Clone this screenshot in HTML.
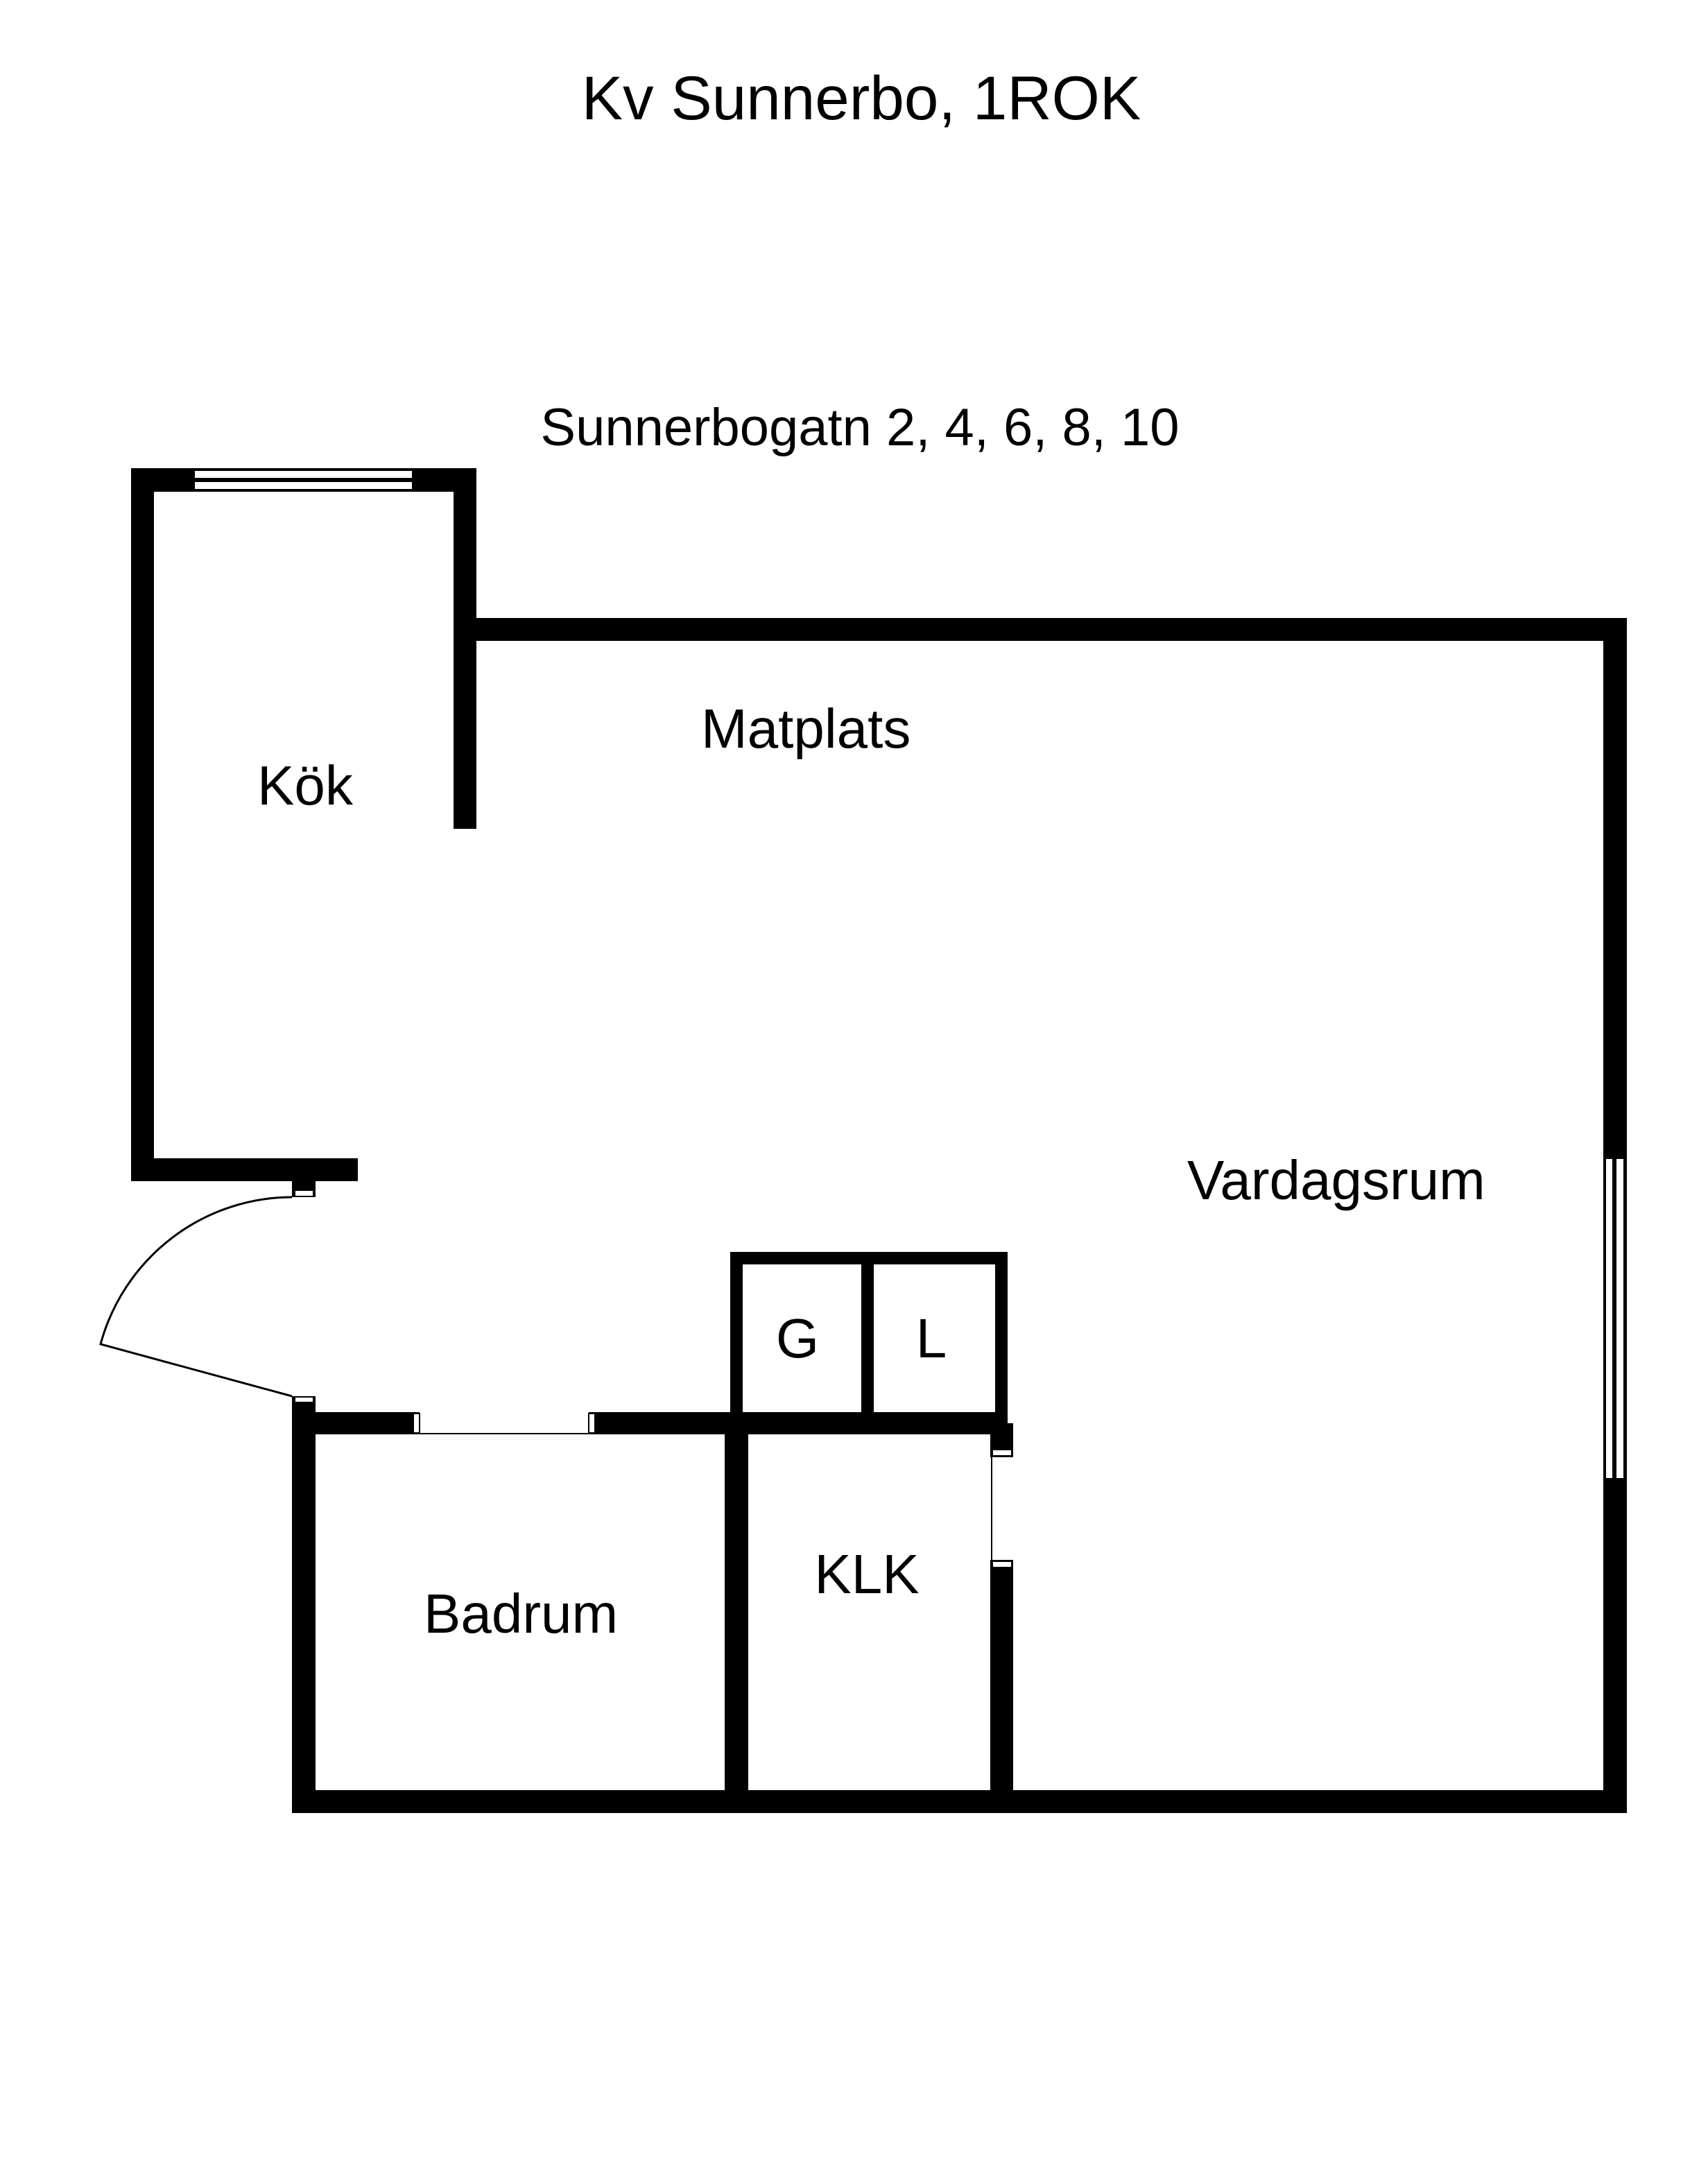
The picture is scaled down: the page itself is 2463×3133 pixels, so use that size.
<!DOCTYPE html>
<html><head><meta charset="utf-8"><style>
html,body{margin:0;padding:0;background:#fff;}
svg{display:block;}
text{font-family:"Liberation Sans",Arial,sans-serif;fill:#000;}
</style></head><body>
<svg width="2463" height="3133" viewBox="0 0 2463 3133" xmlns="http://www.w3.org/2000/svg">
<rect width="2463" height="3133" fill="#fff"/>
<text x="1242" y="172" font-size="89" text-anchor="middle">Kv Sunnerbo, 1ROK</text>
<text x="1240" y="642" font-size="76" text-anchor="middle">Sunnerbogatn 2, 4, 6, 8, 10</text>
<g fill="#000">
<rect x="189" y="675" width="498" height="34"/>
<rect x="189" y="675" width="33" height="1028"/>
<rect x="654" y="675" width="33" height="520"/>
<rect x="189" y="1670" width="327" height="33"/>
<rect x="654" y="891" width="1692" height="33"/>
<rect x="2312" y="891" width="34" height="1723"/>
<rect x="421" y="2581" width="1925" height="33"/>
<rect x="421" y="2013" width="34" height="601"/>
<rect x="455" y="2036" width="150" height="32"/>
<rect x="849" y="2036" width="604" height="32"/>
<rect x="1045" y="2036" width="34" height="578"/>
<rect x="1053" y="1805" width="400" height="18"/>
<rect x="1053" y="1805" width="18" height="240"/>
<rect x="1242" y="1805" width="18" height="240"/>
<rect x="1435" y="1805" width="18" height="240"/>
<rect x="1428" y="2052" width="33" height="49"/>
<rect x="1428" y="2249" width="33" height="365"/>
<rect x="421" y="1703" width="34" height="23"/>
</g>
<g fill="#fff" stroke="#000" stroke-width="2">
<rect x="280" y="678" width="315" height="12"/>
<rect x="280" y="694" width="315" height="12"/>
<rect x="2315" y="1670" width="11" height="462"/>
<rect x="2330" y="1670" width="12" height="462"/>
<rect x="425" y="1716" width="27" height="9"/>
<rect x="425" y="2014" width="27" height="8"/>
<rect x="596" y="2038" width="9" height="28"/>
<rect x="849" y="2038" width="9" height="28"/>
<rect x="1431" y="2090" width="28" height="9"/>
<rect x="1431" y="2251" width="28" height="9"/>
</g>
<g fill="none" stroke="#000">
<path d="M421 1726 A287 287 0 0 0 145 1938 L421 2013" stroke-width="3"/>
<line x1="605" y1="2067" x2="849" y2="2067" stroke-width="2"/>
<line x1="1430" y1="2101" x2="1430" y2="2249" stroke-width="2"/>
</g>
<text x="371" y="1160" font-size="80">Kök</text>
<text x="1011" y="1078" font-size="80">Matplats</text>
<text x="1712" y="1729" font-size="80">Vardagsrum</text>
<text x="1150" y="1957" font-size="80" text-anchor="middle">G</text>
<text x="1343" y="1957" font-size="80" text-anchor="middle">L</text>
<text x="1250" y="2297" font-size="80" text-anchor="middle">KLK</text>
<text x="611" y="2354" font-size="80">Badrum</text>
</svg>
</body></html>
